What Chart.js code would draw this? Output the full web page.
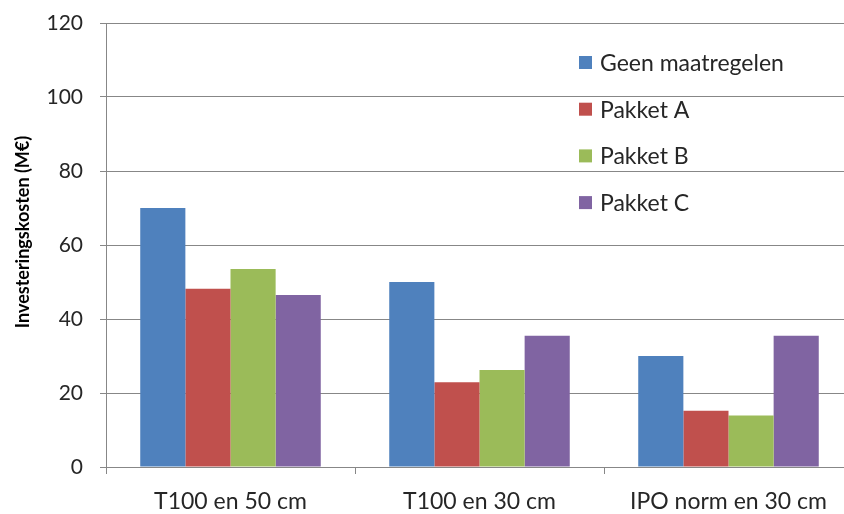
<!DOCTYPE html>
<html>
<head>
<meta charset="utf-8">
<script src="https://cdn.jsdelivr.net/npm/chart.js@4/dist/chart.umd.min.js"></script>
<style>
html,body{margin:0;padding:0;background:#fff;overflow:hidden;}
#wrap{width:860px;height:514px;}
</style>
</head>
<body>
<div id="wrap"><canvas id="c" width="860" height="514"></canvas></div>
<script>
const categories = ["T100 en 50 cm", "T100 en 30 cm", "IPO norm en 30 cm"];
const seriesNames = ["Geen maatregelen", "Pakket A", "Pakket B", "Pakket C"];
const geenMaatregelen = [70, 50, 30];
const pakketA = [48.2, 22.9, 15.2];
const pakketB = [53.5, 26.2, 13.9];
const pakketC = [46.5, 35.5, 35.5];
const seriesColors = ["#4F81BD", "#C0504D", "#9BBB59", "#8064A2"];
const yTicks = [0, 20, 40, 60, 80, 100, 120];
const yTitle = "Investeringskosten (M€)";

const FONT = "Lato";
const TEXT = "#262626";
const GRID = "#878787";

const insideLegend = {
  id: 'insideLegend',
  afterDraw(chart) {
    const ctx = chart.ctx;
    ctx.save();
    ctx.font = "23px " + FONT;
    ctx.textBaseline = "middle";
    ctx.textAlign = "left";
    chart.data.datasets.forEach((ds, i) => {
      const cy = 62.5 + i * 46.7;
      ctx.fillStyle = ds.backgroundColor;
      ctx.fillRect(579, cy - 6.5, 13, 13);
      ctx.fillStyle = TEXT;
      ctx.fillText(ds.label, 600, cy + 1);
    });
    // y axis title
    ctx.translate(23, 232);
    ctx.rotate(-Math.PI / 2);
    ctx.font = "bold 18px " + FONT;
    ctx.fillStyle = "#000";
    ctx.textAlign = "center";
    ctx.textBaseline = "middle";
    ctx.fillText(yTitle, 0, 0);
    ctx.restore();
  }
};

const allSeries = [geenMaatregelen, pakketA, pakketB, pakketC];

new Chart(document.getElementById('c'), {
  type: 'bar',
  data: {
    labels: categories,
    datasets: allSeries.map((d, i) => ({
      label: seriesNames[i],
      data: d,
      backgroundColor: seriesColors[i],
      borderWidth: 0,
      categoryPercentage: 0.725,
      barPercentage: 1.0
    }))
  },
  options: {
    responsive: false,
    animation: false,
    devicePixelRatio: 1,
    layout: { padding: { left: 0, top: 23, right: 7, bottom: 0 } },
    plugins: { legend: { display: false }, tooltip: { enabled: false } },
    scales: {
      x: {
        grid: { display: true, drawOnChartArea: false, drawTicks: true, tickLength: 7, color: GRID, offset: true },
        border: { display: true, color: GRID, width: 1 },
        ticks: { color: TEXT, font: { family: FONT, size: 23 }, padding: 14, maxRotation: 0 },
        afterFit(s) { s.height = 47; }
      },
      y: {
        min: 0, max: 120,
        afterBuildTicks(s) { s.ticks = yTicks.map(v => ({ value: v })); },
        grid: { color: GRID, lineWidth: 1, tickLength: 6, drawTicks: true },
        border: { display: true, color: GRID, width: 1 },
        ticks: { color: TEXT, font: { family: FONT, size: 21 }, padding: 17 },
        title: { display: false },
        afterFit(s) { s.width = 106; s.paddingTop = 0; s.paddingBottom = 0; }
      }
    }
  },
  plugins: [insideLegend]
});
</script>
</body>
</html>
